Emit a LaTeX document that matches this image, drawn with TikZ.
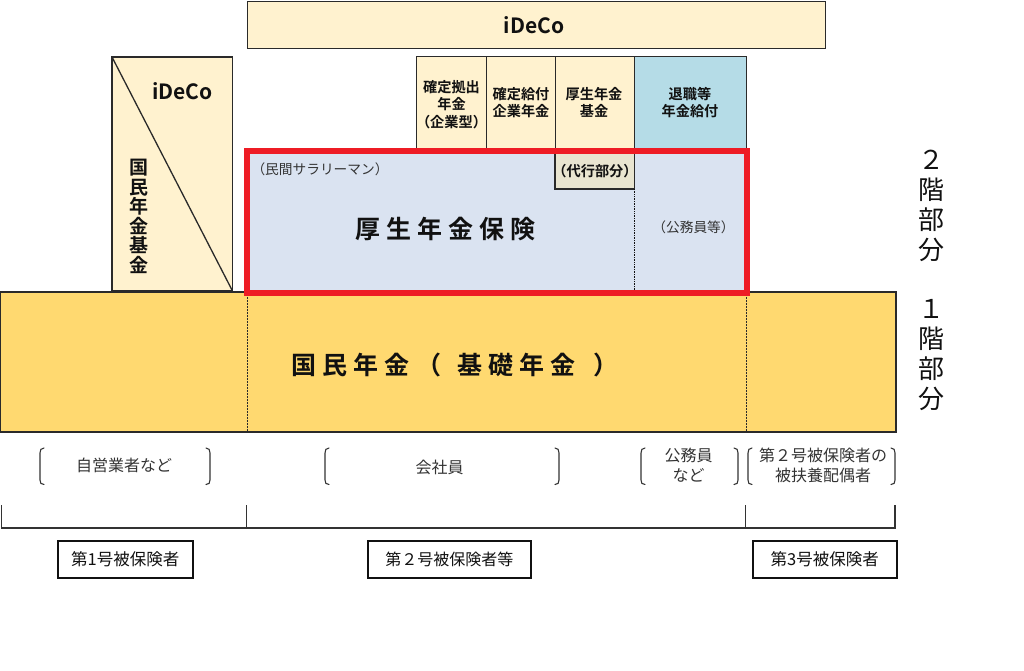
\documentclass[tikz,border=0pt]{standalone}
\usepackage{fontspec}
\setmainfont{Noto Sans CJK JP}[BoldFont={Noto Sans CJK JP Bold}]
\definecolor{cream}{HTML}{FFF2CF}
\definecolor{gold}{HTML}{FFD970}
\definecolor{pale}{HTML}{DAE3F1}
\definecolor{sky}{HTML}{B5DCE7}
\definecolor{proxy}{HTML}{E9E5D0}
\definecolor{redline}{HTML}{EE1C25}
\definecolor{edge}{HTML}{2A2A2A}
\definecolor{ink}{HTML}{111111}
\definecolor{ink2}{HTML}{333333}
\tikzset{
 x=1pt,y=-1pt,
 boxs/.style={draw=edge,line width=1.3pt,fill=#1},
 lab/.style={font=\bfseries\fontsize{14.2}{17.6}\selectfont,align=center,text=ink,inner sep=0pt},
 small/.style={font=\fontsize{16}{19.8}\selectfont,align=center,text=ink2,inner sep=0pt},
 tiny/.style={font=\fontsize{13.7}{16}\selectfont,align=center,text=ink2,inner sep=0pt},
 tag/.style={draw=ink,line width=1.6pt,fill=white,text=ink,inner sep=0pt,minimum height=37pt,anchor=north west},
 side/.style={font=\fontsize{26}{30}\selectfont,align=center,text=ink,inner sep=0pt},
 brk/.style={draw=ink2,line width=1.1pt,line cap=round},
 rule/.style={draw=ink2,line width=1.1pt},
 title/.style={font=\bfseries\fontsize{25}{28}\selectfont,text=ink,inner sep=0pt},
 latin/.style={font=\bfseries\fontsize{21}{23}\selectfont,text=ink,inner sep=0pt},
}
\newcommand{\lbrk}[1]{\draw[brk] (#1+4,448) .. controls (#1+1,448) and (#1,450) .. (#1,453) -- (#1,480) .. controls (#1,483) and (#1+1,484.5) .. (#1+4,484.5);}
\newcommand{\rbrk}[1]{\draw[brk] (#1-4,448) .. controls (#1-1,448) and (#1,450) .. (#1,453) -- (#1,480) .. controls (#1,483) and (#1-1,484.5) .. (#1-4,484.5);}
\newcommand{\dnone}[1]{\raisebox{-4pt}{\fontsize{16.5}{18}\selectfont #1}}
\newcommand{\dntwo}[1]{\raisebox{-4pt}{\fontsize{16}{18}\selectfont #1}}
\begin{document}
\begin{tikzpicture}
\useasboundingbox (0,0) rectangle (1024,671);
% 1st floor
\draw[draw=edge,line width=1.3pt,fill=gold] (0,292) rectangle (896,432);
\draw[edge,line width=.5pt,densely dotted] (247,292) -- (247,432) (746,292) -- (746,432);
% top boxes
\node[boxs=cream,latin,minimum width=578pt,minimum height=47pt,anchor=north west] (ideco) at (247,1) {\hspace{-5pt}iDeCo};
\draw[boxs=cream] (112,57) rectangle (232.5,291);
\draw[edge,line width=1.3pt] (112,57) -- (232.5,291);
\node[latin] (ideco2) at (182.5,91) {iDeCo};
\node[font=\bfseries\fontsize{19}{19.5}\selectfont,align=center,text=ink,inner sep=0pt] (kikin) at (139,216.5)
 {国\\民\\年\\金\\基\\金};
% second-floor plans
\draw[boxs=cream,line width=1pt] (416,57) rectangle (486,150);
\draw[boxs=cream,line width=1pt] (486,57) rectangle (555,150);
\draw[boxs=cream,line width=1pt] (555,57) rectangle (634,150);
\draw[boxs=sky,line width=1pt] (634,57) rectangle (746,150);
\node[lab] (dc) at (451.5,104.5) {確定拠出\\年金\\（企業型）};
\node[lab] (db) at (521,102.5) {確定給付\\企業年金};
\node[lab] (kn) at (594,102.5) {厚生年金\\基金};
\node[lab] (tk) at (690,102.5) {退職等\\年金給付};
% employees' pension
\fill[pale] (247,151) rectangle (747,293);
\draw[boxs=proxy,line width=1.1pt] (555,151) rectangle (634.5,189);
\node[lab] (dk) at (595,171.5) {（代行部分）};
\draw[ink,line width=.7pt,densely dotted] (634.5,189) -- (634.5,291);
\draw[redline,line width=6pt] (247,151) rectangle (747,293);
\node[tiny] (mk) at (320,169.5) {（民間サラリーマン）};
\node[tiny] (km) at (693.5,227) {（公務員等）};
\node[title] (kosei) at (445,229)
 {厚\hspace{6pt}生\hspace{6pt}年\hspace{6pt}金\hspace{6pt}保\hspace{6pt}険};
\node[title,anchor=west] (kokumin) at (291,365)
 {国\hspace{6pt}民\hspace{6pt}年\hspace{6pt}金\hspace{7pt}（\hspace{16pt}基\hspace{6pt}礎\hspace{6pt}年\hspace{6pt}金\hspace{18pt}）};
% floor labels
\node[side] (f2) at (931,206) {２\\階\\部\\分};
\node[side] (f1) at (931,355) {１\\階\\部\\分};
% occupation labels
\lbrk{40} \rbrk{210}
\node[small] (a) at (124,465.5) {自営業者など};
\lbrk{325} \rbrk{559}
\node[small] (b) at (439.5,467.5) {会社員};
\lbrk{641} \rbrk{738}
\node[small] (c) at (688.5,465.5) {公務員\\など};
\lbrk{748} \rbrk{895}
\node[small] (d) at (823,465.5) {第２号被保険者の\\被扶養配偶者};
% bracket rule
\coordinate (l0) at (1.5,505); \coordinate (l1) at (246.5,505);
\coordinate (l2) at (745.5,505); \coordinate (l3) at (895,505);
\draw[rule] (l0) -- (1.5,528) -- (895,528) -- (l3);
\draw[rule] (l1) -- (246.5,528);
\draw[rule] (l2) -- (745.5,528);
% categories
\node[tag,minimum width=135pt] (t1) at (57,540) {\dnone{第1号被保険者}};
\node[tag,minimum width=163pt] (t2) at (367,540) {\dntwo{第２号被保険者等}};
\node[tag,minimum width=144pt] (t3) at (752,540) {\dnone{第3号被保険者}};
\end{tikzpicture}
\end{document}
